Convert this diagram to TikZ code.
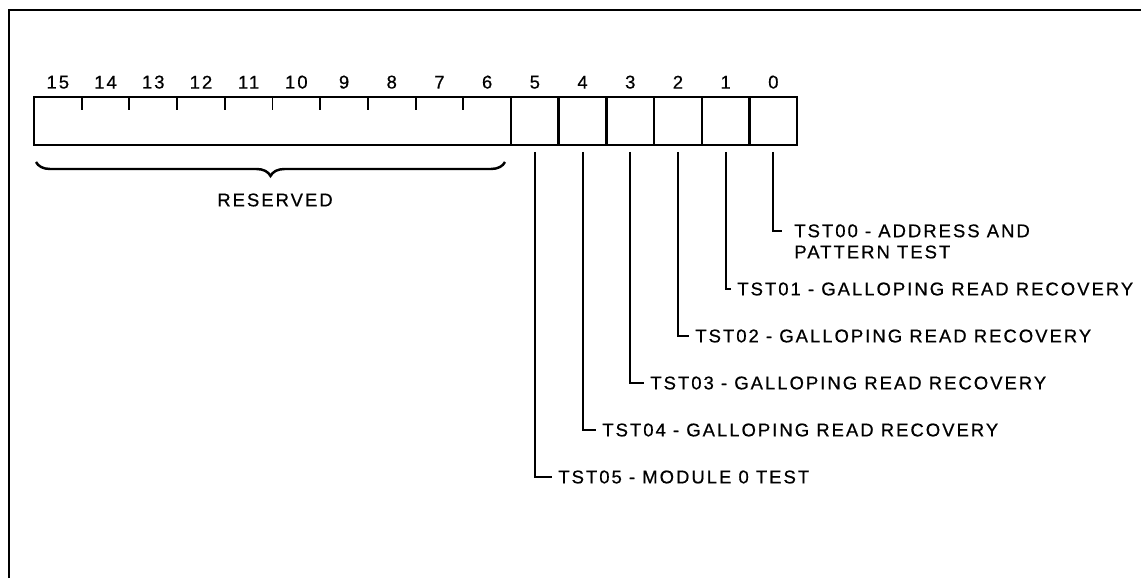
\documentclass[tikz,border=0pt]{standalone}
\usepackage{fontspec}
\setmainfont{Liberation Sans}[LetterSpace=11,FakeBold=0.6]
\usetikzlibrary{positioning,decorations.pathreplacing}
\begin{document}
\begin{tikzpicture}[x=0.02cm, y=0.02cm,
  bitcell/.style={minimum width=0.954cm, minimum height=0.96cm, inner sep=0pt, outer sep=0pt},
  cellline/.style={line width=1.4pt},
  tick/.style={line width=1.1pt},
  bitnum/.style={font=\fontsize{10.5}{12}\selectfont, inner sep=0pt},
  lbl/.style={font=\fontsize{10.5}{12}\selectfont, inner sep=0pt, anchor=west, align=left},
  leader/.style={line width=1.1pt},
  resbrace/.style={decorate, decoration={brace, amplitude=0.28cm}, line width=1.4pt}
]
\useasboundingbox (0,0) rectangle (1141,-578);
\draw[line width=1.6pt] (9,-578) -- (9,-10) -- (1141,-10);
\foreach \i in {15,...,6}
  \node[bitcell] (b\i) at ({57.85+(15-\i)*47.7},-121) {};
\foreach \i in {5,...,0}
  \node[bitcell, draw, cellline] (b\i) at ({57.85+(15-\i)*47.7},-121) {};
\draw[cellline] (b15.south west) rectangle (b6.north east);
\foreach \i in {14,...,6}
  \draw[tick] (b\i.north west) -- ++(0,-13);
\foreach \i in {15,...,0}
  \node[bitnum, above=0.16cm of b\i] {\i};
\draw[resbrace] ([xshift=-0.12cm,yshift=-0.34cm]b6.south east) -- ([xshift=0.04cm,yshift=-0.34cm]b15.south west);
\node[bitnum] (res) at (275,-200) {RESERVED};
\node[lbl, anchor=north west] (t0) at (794,-224) {TST00 - ADDRESS AND\\PATTERN TEST};
\node[lbl] (t1) at (737,-289) {TST01 - GALLOPING READ RECOVERY};
\node[lbl] (t2) at (695,-336) {TST02 - GALLOPING READ RECOVERY};
\node[lbl] (t3) at (650,-383) {TST03 - GALLOPING READ RECOVERY};
\node[lbl] (t4) at (602,-430) {TST04 - GALLOPING READ RECOVERY};
\node[lbl] (t5) at (558,-477) {TST05 - MODULE 0 TEST};
\draw[leader] ([yshift=-0.14cm]b0.south) |- ([xshift=-0.24cm,yshift=-0.14cm]t0.north west);
\foreach \i in {1,...,5}
  \draw[leader] ([yshift=-0.14cm]b\i.south) |- ([xshift=-0.12cm]t\i.west);
\end{tikzpicture}
\end{document}
